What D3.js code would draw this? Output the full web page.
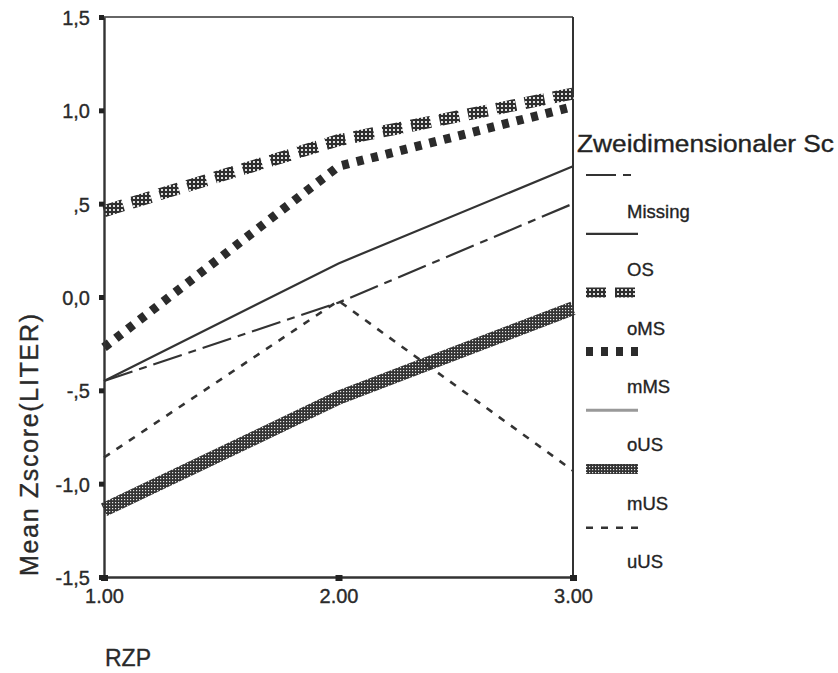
<!DOCTYPE html>
<html>
<head>
<meta charset="utf-8">
<script src="https://cdn.jsdelivr.net/npm/d3@7"></script>
<style>
  html, body { margin: 0; padding: 0; background: #fff; }
  svg { display: block; font-family: "Liberation Sans", Arial, sans-serif; }
  svg text { stroke: #2a2a2a; stroke-width: 0.35px; }
</style>
</head>
<body>
<svg id="chart" width="838" height="673"></svg>
<script>
// ---- data ----
const categories = [1, 2, 3];
const xTickLabels = ["1.00", "2.00", "3.00"];
const yTicks = [-1.5, -1.0, -0.5, 0.0, 0.5, 1.0, 1.5];
const yTickLabels = ["-1,5", "-1,0", "-,5", "0,0", ",5", "1,0", "1,5"];
const seriesNames = ["Missing", "OS", "oMS", "mMS", "oUS", "mUS", "uUS"];
const valuesMissing = [-0.45, -0.03, 0.50];
const valuesOS = [-0.45, 0.18, 0.70];
const valuesOMS = [0.46, 0.84, 1.09];
const valuesMMS = [-0.27, 0.70, 1.02];
const valuesOUS = [null, null, null];
const valuesMUS = [-1.14, -0.54, -0.06];
const valuesUUS = [-0.86, -0.02, -0.93];
const legendTitle = "Zweidimensionaler Sc";
const xTitle = "RZP";
const yTitle = "Mean Zscore(LITER)";

// ---- styles (kept separate from data) ----
const seriesValues = [valuesMissing, valuesOS, valuesOMS, valuesMMS, valuesOUS, valuesMUS, valuesUUS];
const styles = [
  { stroke: "#333", width: 2.2, dash: "30,7,8,7", order: 5 },
  { stroke: "#333", width: 2.2, dash: null, order: 6 },
  { stroke: "url(#hatchA)", width: 12, dash: "20,9", order: 1 },
  { stroke: "#2b2b2b", width: 9, dash: "7,8", order: 2 },
  { stroke: "#999", width: 3, dash: null, order: 3 },
  { stroke: "url(#hatchB)", width: 14, dash: null, order: 0 },
  { stroke: "#333", width: 2.6, dash: "7,8", order: 7 }
];

const svg = d3.select("#chart");
const defs = svg.append("defs");
const pA = defs.append("pattern").attr("id", "hatchA").attr("patternUnits", "userSpaceOnUse")
  .attr("width", 4).attr("height", 4);
pA.append("rect").attr("width", 4).attr("height", 4).attr("fill", "#2e2e2e");
pA.append("rect").attr("x", 1).attr("y", 1).attr("width", 2).attr("height", 2).attr("fill", "#ddd");
const pB = defs.append("pattern").attr("id", "hatchB").attr("patternUnits", "userSpaceOnUse")
  .attr("width", 3).attr("height", 3);
pB.append("rect").attr("width", 3).attr("height", 3).attr("fill", "#333");
pB.append("rect").attr("x", 1).attr("y", 1).attr("width", 1.2).attr("height", 1.2).attr("fill", "#e8e8e8");

const x = d3.scaleLinear().domain([1, 3]).range([104, 573]);
const y = d3.scaleLinear().domain([-1.5, 1.5]).range([577, 17]);

// frame (top & right)
svg.append("line").attr("x1", x(1)).attr("x2", x(3)).attr("y1", y(1.5)).attr("y2", y(1.5))
  .attr("stroke", "#333").attr("stroke-width", 1.6);
svg.append("line").attr("x1", x(3)).attr("x2", x(3)).attr("y1", y(1.5)).attr("y2", y(-1.5))
  .attr("stroke", "#333").attr("stroke-width", 2);

// series
const line = d3.line().defined(d => d[1] != null).x(d => x(d[0])).y(d => y(d[1]));
const order = d3.range(seriesNames.length).sort((a, b) => styles[a].order - styles[b].order);
const gLines = svg.append("g");
order.forEach(i => {
  const st = styles[i];
  const pts = categories.map((c, k) => [c, seriesValues[i][k]]);
  gLines.append("path").datum(pts).attr("d", line)
    .attr("fill", "none").attr("stroke", st.stroke).attr("stroke-width", st.width)
    .attr("stroke-dasharray", st.dash).attr("stroke-linejoin", "miter");
});

// axes
const yAxis = d3.axisLeft(y).tickValues(yTicks).tickFormat((d, i) => yTickLabels[i]).tickSize(0).tickPadding(14);
const gy = svg.append("g").attr("transform", `translate(${x(1)},0)`).call(yAxis);
gy.select(".domain").attr("stroke", "#333").attr("stroke-width", 2.4);
gy.selectAll(".tick text").attr("font-size", 20).attr("fill", "#2a2a2a").attr("dy", null).attr("y", 7.5)
  .attr("font-family", "Liberation Sans, Arial, sans-serif");
gy.selectAll(".tick").append("rect").attr("x", -5).attr("y", -2.5).attr("width", 5).attr("height", 5).attr("fill", "#222");

const xAxis = d3.axisBottom(x).tickValues(categories).tickFormat((d, i) => xTickLabels[i]).tickSize(0).tickPadding(12);
const gx = svg.append("g").attr("transform", `translate(0,${y(-1.5)})`).call(xAxis);
gx.select(".domain").attr("stroke", "#333").attr("stroke-width", 2.4);
gx.selectAll(".tick text").attr("font-size", 20).attr("fill", "#2a2a2a").attr("dy", null).attr("y", 26)
  .attr("font-family", "Liberation Sans, Arial, sans-serif");
gx.selectAll(".tick").append("rect").attr("x", -3.5).attr("y", -2).attr("width", 7).attr("height", 6).attr("fill", "#222");

// axis titles
svg.append("text").attr("x", 105).attr("y", 666).attr("font-size", 23).attr("fill", "#2a2a2a").text(xTitle);
svg.append("text").attr("transform", "translate(38,445) rotate(-90)").attr("text-anchor", "middle")
  .attr("font-size", 25).attr("fill", "#2a2a2a").attr("textLength", 262).attr("lengthAdjust", "spacing").text(yTitle);

// legend
svg.append("text").attr("x", 577).attr("y", 152).attr("font-size", 23).attr("fill", "#222")
  .attr("textLength", 257).attr("lengthAdjust", "spacingAndGlyphs").text(legendTitle);
const legStep = 58.8;
seriesNames.forEach((name, i) => {
  const st = styles[i];
  const sy = 175 + i * legStep;
  svg.append("line").attr("x1", 586).attr("x2", 638).attr("y1", sy).attr("y2", sy)
    .attr("stroke", st.stroke).attr("stroke-width", Math.min(st.width, 10))
    .attr("stroke-dasharray", st.dash);
  svg.append("text").attr("x", 627).attr("y", 218 + i * 58.3).attr("font-size", 18.5)
    .attr("fill", "#222").text(name);
});
</script>
</body>
</html>
